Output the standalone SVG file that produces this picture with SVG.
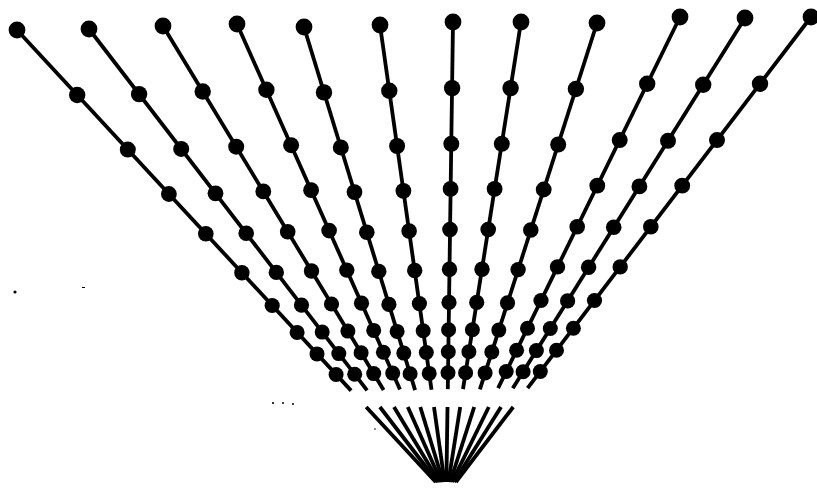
<svg xmlns="http://www.w3.org/2000/svg" width="817" height="488" viewBox="0 0 817 488">
<style>
.ray{stroke:#000;stroke-width:3.8;fill:none;stroke-linecap:butt}
.fan{stroke:#000;stroke-width:3.8;fill:none}
.d{fill:#000}
.s{fill:#000}
</style>
<rect width="817" height="488" fill="#fff"/>
<g id="connectors">
<line class="ray" x1="17" y1="30" x2="351.1" y2="390.6"/>
<line class="ray" x1="89" y1="29" x2="367.1" y2="390.4"/>
<line class="ray" x1="163" y1="26" x2="383.6" y2="389.9"/>
<line class="ray" x1="237" y1="24" x2="400" y2="389.5"/>
<line class="ray" x1="304" y1="27" x2="415.1" y2="390.1"/>
<line class="ray" x1="380" y1="25" x2="431.5" y2="389.7"/>
<line class="ray" x1="453" y1="22" x2="447.8" y2="389.1"/>
<line class="ray" x1="521" y1="22" x2="463" y2="389.1"/>
<line class="ray" x1="597" y1="23" x2="479.9" y2="389.3"/>
<line class="ray" x1="680" y1="17" x2="498.1" y2="388.1"/>
<line class="ray" x1="745" y1="18" x2="512.8" y2="388.3"/>
<line class="ray" x1="811" y1="17" x2="527.6" y2="388.1"/>
</g>
<g id="bottom-fan">
<line class="fan" x1="366.2" y1="407" x2="435.7" y2="482"/>
<line class="fan" x1="379.9" y1="407" x2="437.6" y2="482"/>
<line class="fan" x1="394" y1="407" x2="439.4" y2="482"/>
<line class="fan" x1="407.8" y1="407" x2="441.3" y2="482"/>
<line class="fan" x1="420.3" y1="407" x2="443.2" y2="482"/>
<line class="fan" x1="434" y1="407" x2="444.6" y2="482"/>
<line class="fan" x1="447.5" y1="407" x2="446.4" y2="482"/>
<line class="fan" x1="460.2" y1="407" x2="448.4" y2="482"/>
<line class="fan" x1="474.2" y1="407" x2="450.2" y2="482"/>
<line class="fan" x1="488.8" y1="407" x2="452" y2="482"/>
<line class="fan" x1="501" y1="407" x2="454" y2="482"/>
<line class="fan" x1="513.2" y1="407" x2="455.9" y2="482"/>
</g>
<g id="ray-1" class="d">
<circle cx="17" cy="30" r="8.4"/><circle cx="77.2" cy="95" r="8.2"/><circle cx="127.8" cy="149.6" r="8"/><circle cx="168.9" cy="194" r="7.9"/><circle cx="205.8" cy="233.8" r="7.8"/><circle cx="241.9" cy="272.8" r="7.7"/><circle cx="272.2" cy="305.5" r="7.6"/><circle cx="297.1" cy="332.4" r="7.5"/><circle cx="317" cy="353.9" r="7.5"/><circle cx="336.1" cy="374.5" r="7.5"/>
</g>
<g id="ray-2" class="d">
<circle cx="89" cy="29" r="8.4"/><circle cx="139.1" cy="94.1" r="8.2"/><circle cx="181.2" cy="148.9" r="8"/><circle cx="215.5" cy="193.3" r="7.9"/><circle cx="246.2" cy="233.3" r="7.8"/><circle cx="276.3" cy="272.4" r="7.7"/><circle cx="301.5" cy="305.1" r="7.6"/><circle cx="322.2" cy="332.1" r="7.5"/><circle cx="338.8" cy="353.6" r="7.5"/><circle cx="354.7" cy="374.3" r="7.5"/>
</g>
<g id="ray-3" class="d">
<circle cx="163" cy="26" r="8.4"/><circle cx="202.7" cy="91.5" r="8.2"/><circle cx="236.2" cy="146.7" r="8"/><circle cx="263.3" cy="191.4" r="7.9"/><circle cx="287.7" cy="231.7" r="7.8"/><circle cx="311.5" cy="271" r="7.7"/><circle cx="331.5" cy="304" r="7.6"/><circle cx="347.9" cy="331.1" r="7.5"/><circle cx="361.1" cy="352.8" r="7.5"/><circle cx="373.7" cy="373.6" r="7.5"/>
</g>
<g id="ray-4" class="d">
<circle cx="237" cy="24" r="8.4"/><circle cx="266.4" cy="89.8" r="8.2"/><circle cx="291.1" cy="145.2" r="8"/><circle cx="311.1" cy="190.2" r="7.9"/><circle cx="329.1" cy="230.6" r="7.8"/><circle cx="346.8" cy="270.1" r="7.7"/><circle cx="361.5" cy="303.2" r="7.6"/><circle cx="373.7" cy="330.4" r="7.5"/><circle cx="383.4" cy="352.2" r="7.5"/><circle cx="392.7" cy="373.1" r="7.5"/>
</g>
<g id="ray-5" class="d">
<circle cx="304" cy="27" r="8.4"/><circle cx="324" cy="92.4" r="8.2"/><circle cx="340.8" cy="147.4" r="8"/><circle cx="354.5" cy="192.1" r="7.9"/><circle cx="366.8" cy="232.2" r="7.8"/><circle cx="378.8" cy="271.4" r="7.7"/><circle cx="388.9" cy="304.4" r="7.6"/><circle cx="397.1" cy="331.4" r="7.5"/><circle cx="403.8" cy="353.1" r="7.5"/><circle cx="410.1" cy="373.8" r="7.5"/>
</g>
<g id="ray-6" class="d">
<circle cx="380" cy="25" r="8.4"/><circle cx="389.3" cy="90.7" r="8.2"/><circle cx="397.1" cy="146" r="8"/><circle cx="403.4" cy="190.8" r="7.9"/><circle cx="409.1" cy="231.1" r="7.8"/><circle cx="414.7" cy="270.5" r="7.7"/><circle cx="419.4" cy="303.6" r="7.6"/><circle cx="423.2" cy="330.8" r="7.5"/><circle cx="426.3" cy="352.5" r="7.5"/><circle cx="429.2" cy="373.4" r="7.5"/>
</g>
<g id="ray-7" class="d">
<circle cx="453" cy="22" r="8.4"/><circle cx="452.1" cy="88.1" r="8.2"/><circle cx="451.3" cy="143.8" r="8"/><circle cx="450.6" cy="188.9" r="7.9"/><circle cx="450" cy="229.5" r="7.8"/><circle cx="449.5" cy="269.2" r="7.7"/><circle cx="449" cy="302.4" r="7.6"/><circle cx="448.6" cy="329.8" r="7.5"/><circle cx="448.3" cy="351.7" r="7.5"/><circle cx="448" cy="372.7" r="7.5"/>
</g>
<g id="ray-8" class="d">
<circle cx="521" cy="22" r="8.4"/><circle cx="510.6" cy="88.1" r="8.2"/><circle cx="501.8" cy="143.8" r="8"/><circle cx="494.6" cy="188.9" r="7.9"/><circle cx="488.2" cy="229.5" r="7.8"/><circle cx="482" cy="269.2" r="7.7"/><circle cx="476.7" cy="302.4" r="7.6"/><circle cx="472.4" cy="329.8" r="7.5"/><circle cx="468.9" cy="351.7" r="7.5"/><circle cx="465.6" cy="372.7" r="7.5"/>
</g>
<g id="ray-9" class="d">
<circle cx="597" cy="23" r="8.4"/><circle cx="575.9" cy="89" r="8.2"/><circle cx="558.2" cy="144.5" r="8"/><circle cx="543.7" cy="189.5" r="7.9"/><circle cx="530.8" cy="230" r="7.8"/><circle cx="518.1" cy="269.6" r="7.7"/><circle cx="507.5" cy="302.8" r="7.6"/><circle cx="498.8" cy="330.1" r="7.5"/><circle cx="491.8" cy="352" r="7.5"/><circle cx="485.1" cy="372.9" r="7.5"/>
</g>
<g id="ray-10" class="d">
<circle cx="680" cy="17" r="8.4"/><circle cx="647.2" cy="83.8" r="8.2"/><circle cx="619.7" cy="140.1" r="8"/><circle cx="597.3" cy="185.7" r="7.9"/><circle cx="577.2" cy="226.8" r="7.8"/><circle cx="557.5" cy="266.9" r="7.7"/><circle cx="541" cy="300.5" r="7.6"/><circle cx="527.5" cy="328.2" r="7.5"/><circle cx="516.6" cy="350.3" r="7.5"/><circle cx="506.2" cy="371.5" r="7.5"/>
</g>
<g id="ray-11" class="d">
<circle cx="745" cy="18" r="8.4"/><circle cx="703.2" cy="84.7" r="8.2"/><circle cx="668" cy="140.8" r="8"/><circle cx="639.4" cy="186.4" r="7.9"/><circle cx="613.7" cy="227.3" r="7.8"/><circle cx="588.6" cy="267.3" r="7.7"/><circle cx="567.6" cy="300.9" r="7.6"/><circle cx="550.3" cy="328.5" r="7.5"/><circle cx="536.4" cy="350.6" r="7.5"/><circle cx="523.1" cy="371.7" r="7.5"/>
</g>
<g id="ray-12" class="d">
<circle cx="811" cy="17" r="8.4"/><circle cx="760" cy="83.8" r="8.2"/><circle cx="717" cy="140.1" r="8"/><circle cx="682.2" cy="185.7" r="7.9"/><circle cx="650.8" cy="226.8" r="7.8"/><circle cx="620.2" cy="266.9" r="7.7"/><circle cx="594.5" cy="300.5" r="7.6"/><circle cx="573.4" cy="328.2" r="7.5"/><circle cx="556.5" cy="350.3" r="7.5"/><circle cx="540.3" cy="371.5" r="7.5"/>
</g>
<g id="specks" class="s">
<circle cx="15" cy="292" r="1.6"/>
<rect x="82" y="287" width="3" height="1"/>
<circle cx="273" cy="403" r="1.1"/>
<circle cx="283" cy="403" r="1"/>
<circle cx="293" cy="404" r="1"/>
<circle cx="375" cy="429" r="0.8"/>
</g>
</svg>
